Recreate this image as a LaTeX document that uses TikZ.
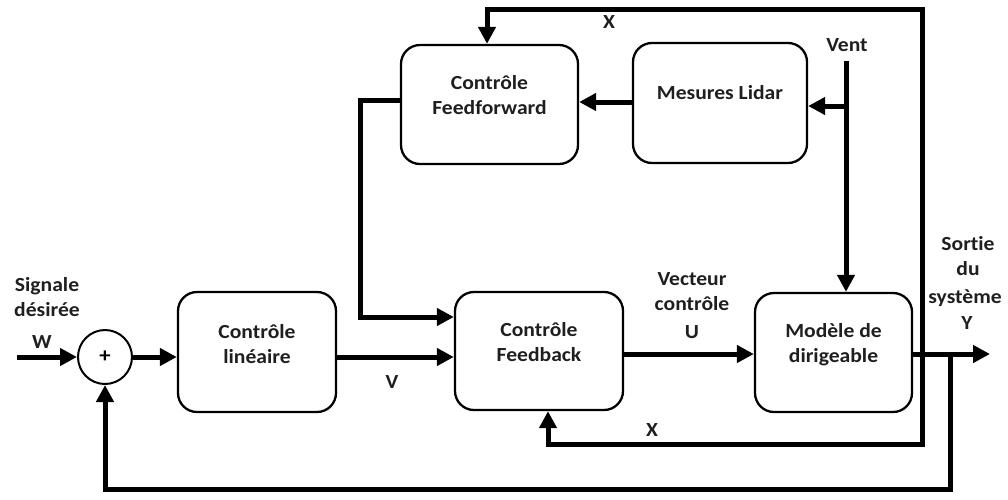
\documentclass[tikz,border=0pt]{standalone}
\usepackage{fontspec}
\setmainfont{Carlito}[FakeStretch=1.08,Ligatures={NoCommon}]
\usetikzlibrary{arrows.meta,calc}
\begin{document}
\begin{tikzpicture}[x=1pt,y=-1pt,
  blk/.style={draw,line width=2.3pt,rounded corners=19pt,minimum width=#1,inner sep=0pt},
  txt/.style={font=\fontsize{20}{25}\selectfont\bfseries,align=center,inner sep=0pt,text=black!88},
  wire/.style={line width=5pt,-{Triangle[length=17pt,width=17pt]}},
  wire2/.style={line width=5pt,{Triangle[length=17pt,width=17pt]}-{Triangle[length=17pt,width=17pt]}}]
\useasboundingbox (0,0) rectangle (1008,499);
% blocks
\node[blk=158pt,minimum height=120pt] (lin) at (257,352) {};
\node[blk=168pt,minimum height=118pt] (fb) at (539,351) {};
\node[blk=157pt,minimum height=119pt] (mod) at (833.5,352.5) {};
\node[blk=177pt,minimum height=119pt] (ff) at (489.5,104.5) {};
\node[blk=174pt,minimum height=120pt] (lid) at (720,103) {};
\node[draw,circle,line width=2pt,minimum size=54pt,inner sep=0pt] (sum) at (105,357) {};
\node[font=\fontsize{21}{21}\selectfont\bfseries,inner sep=0pt] (plus) at (sum.center) {+};
% block texts
\node[txt] (lint) at (257,344.5) {Contrôle\\linéaire};
\node[txt] (fbt) at (539,342.5) {Contrôle\\Feedback};
\node[txt] (modt) at (833.5,344.5) {Modèle de\\dirigeable};
\node[txt] (fft) at (489.5,95.5) {Contrôle\\Feedforward};
\node[txt] (lidt) at (720,93) {Mesures Lidar};
% labels
\node[txt] (sig) at (47,297.5) {Signale\\désirée};
\node[txt] (w) at (42,342) {W};
\node[txt] (v) at (392,382) {V};
\node[txt] (vec) at (692,291.5) {Vecteur\\contrôle};
\node[txt] (u) at (692,332) {U};
\node[txt] (sor) at (968,256) {Sortie\\du};
\node[txt] (sys) at (965,298) {système};
\node[txt] (y) at (967,323) {Y};
\node[txt] (vent) at (847,45) {Vent};
\node[txt] (xt) at (609,22) {X};
\node[txt] (xb) at (652,430) {X};
% coordinates
\coordinate (win) at (17,357);
\coordinate (vtop) at (846,61);
\coordinate (out) at (990,354);
\coordinate (xtop) at (922,9);
\coordinate (xbot) at (922,444);
\coordinate (ytap) at (950,354);
\coordinate (ybot) at (950,489);
% wires
\draw[wire] (win) -- (sum.west);
\draw[wire] (sum.east) -- (sum.east -| lin.west);
\draw[wire] (lin.east |- sum.east) -- (fb.west |- sum.east);
\draw[wire] ([yshift=4pt]ff.west) -| (360,317) -- (fb.west |- 0,317);
\draw[wire] (lid.west |- 0,102) -- (ff.east |- 0,102);
\draw[wire] (vtop) -- (vtop |- mod.north);
\draw[wire] (vtop |- 0,106) -- (lid.east |- 0,106);
\draw[wire] (fb.east |- 0,354) -- (mod.west |- 0,354);
\draw[wire] (mod.east |- out) -- (out);
\draw[wire2] (fb.south -| 548,0) |- (xbot) -- (xtop) -| (ff.north -| 487,0);
\draw[wire] (ytap) -- (ybot) -| (sum.south);
\end{tikzpicture}
\end{document}
